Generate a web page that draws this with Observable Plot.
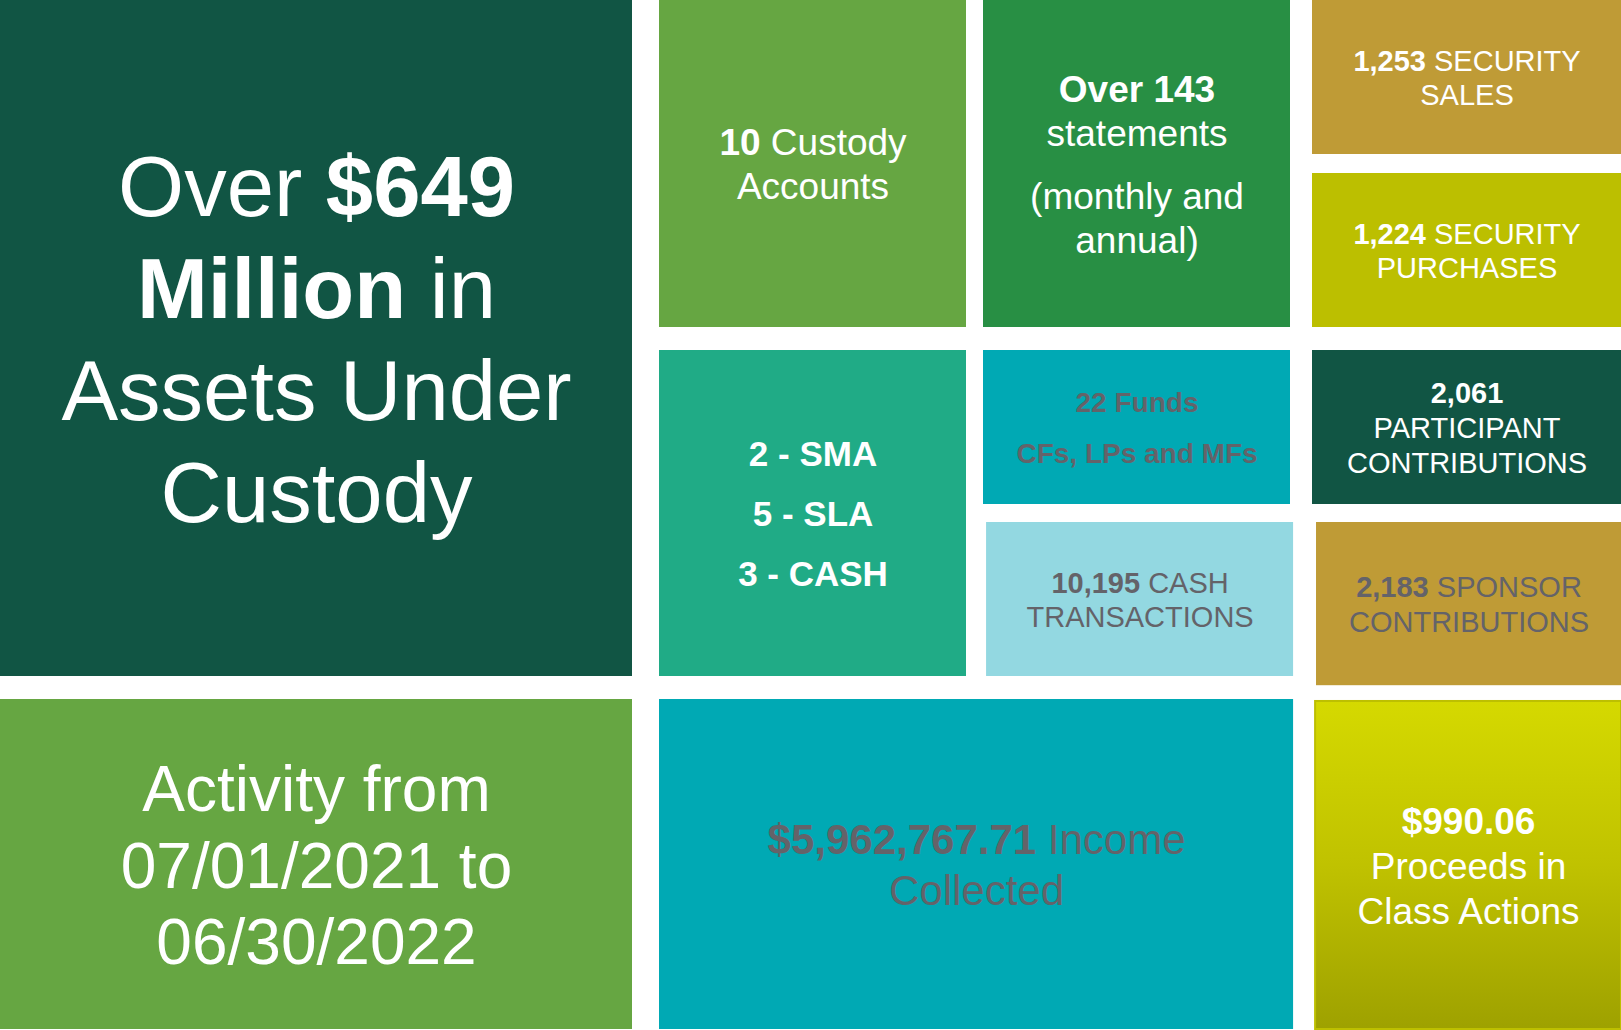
<!DOCTYPE html>
<html>
<head>
<meta charset="utf-8">
<script src="https://cdn.jsdelivr.net/npm/d3@7"></script>
<script src="https://cdn.jsdelivr.net/npm/@observablehq/plot@0.6"></script>
<style>
  html, body { margin: 0; padding: 0; background: #ffffff; overflow: hidden; }
  #chart svg { display: block; }
</style>
</head>
<body>
<div id="chart"></div>
<script>
// ---- Data: tile names and their texts (**...** = bold figure, blank line = paragraph break) ----
const tiles = ["assets", "activity", "custody", "statements", "sales", "purchases",
               "accounts", "funds", "cash", "participant", "sponsor", "income", "proceeds"];
const tileText = [
  "Over **$649**\n**Million** in\nAssets Under\nCustody",
  "Activity from\n07/01/2021 to\n06/30/2022",
  "**10** Custody\nAccounts",
  "**Over 143**\nstatements\n\n(monthly and\nannual)",
  "**1,253** SECURITY\nSALES",
  "**1,224** SECURITY\nPURCHASES",
  "**2 - SMA**\n\n**5 - SLA**\n\n**3 - CASH**",
  "**22 Funds**\n\n**CFs, LPs and MFs**",
  "**10,195** CASH\nTRANSACTIONS",
  "**2,061**\nPARTICIPANT\nCONTRIBUTIONS",
  "**2,183** SPONSOR\nCONTRIBUTIONS",
  "**$5,962,767.71** Income\nCollected",
  "**$990.06**\nProceeds in\nClass Actions"
];

// ---- Layout: tile spans in grid units (columns 0..7, rows 0..9) ----
const colStart = [0, 0, 2, 4, 6, 6, 2, 4, 4.01, 6, 6.013, 2, 6.01];
const colEnd   = [1, 1, 3, 5, 7, 7, 3, 5, 5.14, 7, 7, 5.14, 7];
const rowStart = [0, 8, 0, 0, 0, 2, 4, 4, 6, 4, 6, 8, 8.006];
const rowEnd   = [7, 9, 3, 3, 1, 3, 7, 5, 7, 5, 7.4, 9, 9];

// ---- Scales (grid units -> pixels) ----
const xDomain = [0, 1, 2, 3, 4, 5, 6, 7];
const xRange  = [0, 632, 659, 966, 983, 1290, 1312, 1621];
const yDomain = [0, 1, 2, 3, 4, 5, 6, 7, 8, 9];
const yRange  = [0, 154, 173, 327, 350, 504, 522, 676, 699, 1029];
const xs = d3.scaleLinear(xDomain, xRange);
const ys = d3.scaleLinear(yDomain, yRange);

// ---- Styles ----
const tileColors = ["#115544", "#66a642", "#66a642", "#288f44", "#bf9b36", "#bcbf00",
                    "#20ab86", "#00a9b4", "#93d8e1", "#115544", "#bf9b36", "#00a9b4", "url(#proceedsGrad)"];
const fontSizes   = [85, 64, 37, 37, 29, 29, 35, 28, 29, 29, 29, 42, 37];
const lineHeights = [1.2, 1.19, 1.19, 1.2, 1.19, 1.2, 1.2, 1.2, 1.19, 1.2, 1.23, 1.2, 1.22];
const textColors  = ["#fff", "#fff", "#fff", "#fff", "#fff", "#fff", "#fff",
                     "#646369", "#646369", "#fff", "#646369", "#646369", "#fff"];
const paragraphGap = 18;    // px added at a paragraph break
const baselineShift = 0.36; // em, puts cap-height centre on the tile centre

const data = tiles.map((name, i) => ({
  name, text: tileText[i],
  x1: colStart[i], x2: colEnd[i], y1: rowStart[i], y2: rowEnd[i],
  cx: xs.invert((xs(colStart[i]) + xs(colEnd[i])) / 2),
  cy: ys.invert((ys(rowStart[i]) + ys(rowEnd[i])) / 2)
}));

const font = "'Liberation Sans', Arial, Helvetica, sans-serif";

const textMarks = data.map((d, i) => Plot.text([d], {
  x: "cx", y: "cy", text: "text",
  textAnchor: "middle", lineAnchor: "middle",
  fontSize: fontSizes[i], lineHeight: lineHeights[i],
  fill: textColors[i], fontFamily: font
}));

const chart = Plot.plot({
  width: 1621, height: 1030,
  margin: 0,
  style: { background: "#ffffff", fontFamily: font },
  x: { type: "linear", domain: xDomain, range: xRange, axis: null },
  y: { type: "linear", domain: yDomain, range: yRange, axis: null },
  color: { type: "ordinal", domain: tiles, range: tileColors },
  marks: [
    Plot.rect(data.filter(d => d.name !== "proceeds"), { x1: "x1", x2: "x2", y1: "y1", y2: "y2", fill: "name" }),
    Plot.rect(data.filter(d => d.name === "proceeds"), {
      x1: "x1", x2: "x2", y1: "y1", y2: "y2",
      fill: "url(#proceedsGrad)", stroke: "#bdbf00", strokeWidth: 2,
      style: "filter: drop-shadow(-2px 2px 2px rgba(0,0,0,0.25))"
    }),
    ...textMarks
  ]
});

// gradient definition for the "Proceeds" tile
const ns = "http://www.w3.org/2000/svg";
const defs = document.createElementNS(ns, "defs");
defs.innerHTML = `<linearGradient id="proceedsGrad" x1="0" y1="0" x2="0" y2="1">
  <stop offset="0" stop-color="#d5d900"/>
  <stop offset="0.5" stop-color="#c0c200"/>
  <stop offset="1" stop-color="#9ea100"/>
</linearGradient>`;
chart.insertBefore(defs, chart.firstChild);

document.getElementById("chart").appendChild(chart);

// Line layout (paragraph gaps) and mixed bold/regular runs
const textGroups = Array.from(chart.querySelectorAll('g[aria-label="text"]'));
textGroups.forEach((g, i) => {
  const fs = fontSizes[i], lh = lineHeights[i];
  const src = tileText[i].split("\n");
  const gaps = [];
  let brk = false, count = 0;
  src.forEach(s => {
    if (!s.trim()) { brk = true; return; }
    gaps.push(count ? fs * lh + (brk ? paragraphGap : 0) : 0);
    brk = false; count++;
  });
  const total = d3.sum(gaps);
  g.querySelectorAll("text").forEach(t => {
    let spans = Array.from(t.querySelectorAll("tspan"));
    if (!spans.length) {
      const ts = document.createElementNS(ns, "tspan");
      ts.setAttribute("x", 0);
      ts.textContent = t.textContent;
      t.textContent = "";
      t.removeAttribute("y");
      t.appendChild(ts);
      spans = [ts];
    }
    spans.forEach((el, k) => {
      el.removeAttribute("y");
      el.removeAttribute("dy");
      if (k === 0) el.setAttribute("y", baselineShift * fs - total / 2);
      else el.setAttribute("dy", gaps[k]);
      const s = el.textContent;
      if (!s.includes("**")) return;
      el.textContent = "";
      s.split("**").forEach((part, j) => {
        if (!part) return;
        const r = document.createElementNS(ns, "tspan");
        if (j % 2 === 1) r.setAttribute("font-weight", "bold");
        r.textContent = part;
        el.appendChild(r);
      });
    });
  });
});
</script>
</body>
</html>
